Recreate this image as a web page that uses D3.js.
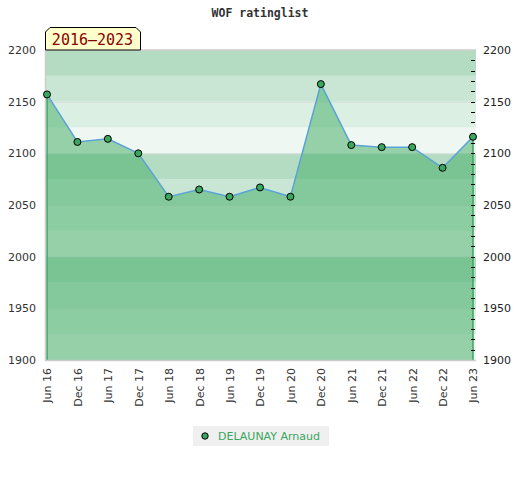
<!DOCTYPE html>
<html><head><meta charset="utf-8">
<script src="https://cdn.jsdelivr.net/npm/d3@7"></script>
<style>body{margin:0;background:#fff}</style>
</head><body>
<script>
const categories = ["Jun 16","Dec 16","Jun 17","Dec 17","Jun 18","Dec 18","Jun 19","Dec 19","Jun 20","Dec 20","Jun 21","Dec 21","Jun 22","Dec 22","Jun 23"];
const ratings = [2157,2111,2114,2100,2058,2065,2058,2067,2058,2167,2108,2106,2106,2086,2116];
const yTicks = [1900,1950,2000,2050,2100,2150,2200];
const bandColors = ["#b3dcc3","#c9e6d4","#dcefe3","#eff7f2"];
const playerName = "DELAUNAY Arnaud";
const titleText = "WOF ratinglist";
const periodText = "2016\u20132023";

const W = 520, H = 480;
const svg = d3.select("body").append("svg").attr("width", W).attr("height", H);

const x = d3.scalePoint().domain(categories).range([47, 473]);
const y = d3.scaleLinear().domain([1900, 2200]).range([360, 50]);

// bands
const bands = d3.range(1900, 2200, 25);
svg.append("g").selectAll("rect").data(bands).join("rect")
  .attr("x", 46).attr("width", 430)
  .attr("y", d => y(d + 25)).attr("height", d => y(d) - y(d + 25))
  .attr("fill", d => bandColors[Math.round((2200 - (d + 25)) / 25) % 4]);

// gridlines
svg.append("g").selectAll("line").data(yTicks).join("line")
  .attr("x1", 46).attr("x2", 476)
  .attr("y1", d => y(d) + 0.5).attr("y2", d => y(d) + 0.5)
  .attr("stroke", "#d6ddd8").attr("stroke-width", 1);

// area
const area = d3.area().x((d, i) => x(categories[i])).y0(y(1900)).y1(d => y(d));
svg.append("path").datum(ratings).attr("d", area)
  .attr("fill", "#4bb16e").attr("fill-opacity", 0.55);
// area side edges
const n = ratings.length;
svg.append("g").selectAll("line").data([0, n - 1]).join("line")
  .attr("x1", i => x(categories[i])).attr("x2", i => x(categories[i]))
  .attr("y1", i => y(ratings[i])).attr("y2", y(1900))
  .attr("stroke", "#3aa65e").attr("stroke-width", 1.5);

// border
svg.append("path")
  .attr("d", `M46,${y(2200)}H476M45.5,${y(2200)}V${y(1900)+0.5}H476`)
  .attr("fill", "none").attr("stroke", "#cccccc").attr("stroke-width", 1.5);

// line
const line = d3.line().x((d, i) => x(categories[i])).y(d => y(d));
svg.append("path").datum(ratings).attr("d", line)
  .attr("fill", "none").attr("stroke", "#5ba3d6").attr("stroke-width", 1.5);

// markers
svg.append("g").selectAll("circle").data(ratings).join("circle")
  .attr("cx", (d, i) => x(categories[i])).attr("cy", d => y(d)).attr("r", 3.5)
  .attr("fill", "#3aa65e").attr("stroke", "#000").attr("stroke-width", 1);

// left axis labels
const axL = svg.append("g").attr("transform", "translate(40,0)")
  .call(d3.axisLeft(y).tickValues(yTicks).tickSize(0).tickPadding(4).tickFormat(d3.format("d")));
axL.select(".domain").remove();
axL.selectAll("text").attr("font-family", "DejaVu Sans").attr("font-size", 11).attr("fill", "#333");

// right axis minor ticks
const minor = d3.range(1910, 2200, 10);
svg.append("g").selectAll("line").data(minor).join("line")
  .attr("x1", 471).attr("x2", 475)
  .attr("y1", d => Math.round(y(d)) + 0.5).attr("y2", d => Math.round(y(d)) + 0.5)
  .attr("stroke", "#000").attr("stroke-width", 1);

const axR = svg.append("g").attr("transform", "translate(479,0)")
  .call(d3.axisRight(y).tickValues(yTicks).tickSize(0).tickPadding(4).tickFormat(d3.format("d")));
axR.select(".domain").remove();
axR.selectAll("text").attr("font-family", "DejaVu Sans").attr("font-size", 11).attr("fill", "#222");

// x axis
const axX = svg.append("g").attr("transform", `translate(0,${y(1900)})`)
  .call(d3.axisBottom(x).tickSize(0).tickPadding(0));
axX.select(".domain").remove();
axX.selectAll("text")
  .attr("font-family", "DejaVu Sans").attr("font-size", 11).attr("fill", "#333")
  .attr("text-anchor", "end").attr("dy", "0.35em")
  .attr("transform", "translate(0,8) rotate(-90)").attr("x", 0).attr("y", 0);

// title
svg.append("text").attr("x", 260).attr("y", 17).attr("text-anchor", "middle")
  .attr("font-family", "DejaVu Sans Mono").attr("font-weight", "bold").attr("font-size", 11.5)
  .attr("fill", "#333").text(titleText);

// period label box
svg.append("path")
  .attr("d", "M45.5,50V32L50,27.5H136L140.5,32V50Z")
  .attr("fill", "#ffffcc").attr("stroke", "#000").attr("stroke-width", 1);
svg.append("text").attr("x", 92.5).attr("y", 45).attr("text-anchor", "middle")
  .attr("font-family", "DejaVu Sans Mono").attr("font-size", 15).attr("fill", "#8b0000")
  .text(periodText);

// legend
const lg = svg.append("g");
lg.append("rect").attr("x", 193).attr("y", 426).attr("width", 136).attr("height", 20).attr("fill", "#f0f0f0");
lg.append("circle").attr("cx", 205).attr("cy", 436).attr("r", 3.2)
  .attr("fill", "#3aa65e").attr("stroke", "#000").attr("stroke-width", 1);
lg.append("text").attr("x", 218).attr("y", 440)
  .attr("font-family", "DejaVu Sans").attr("font-size", 11).attr("fill", "#3aa65e")
  .text(playerName);
</script>
</body></html>
